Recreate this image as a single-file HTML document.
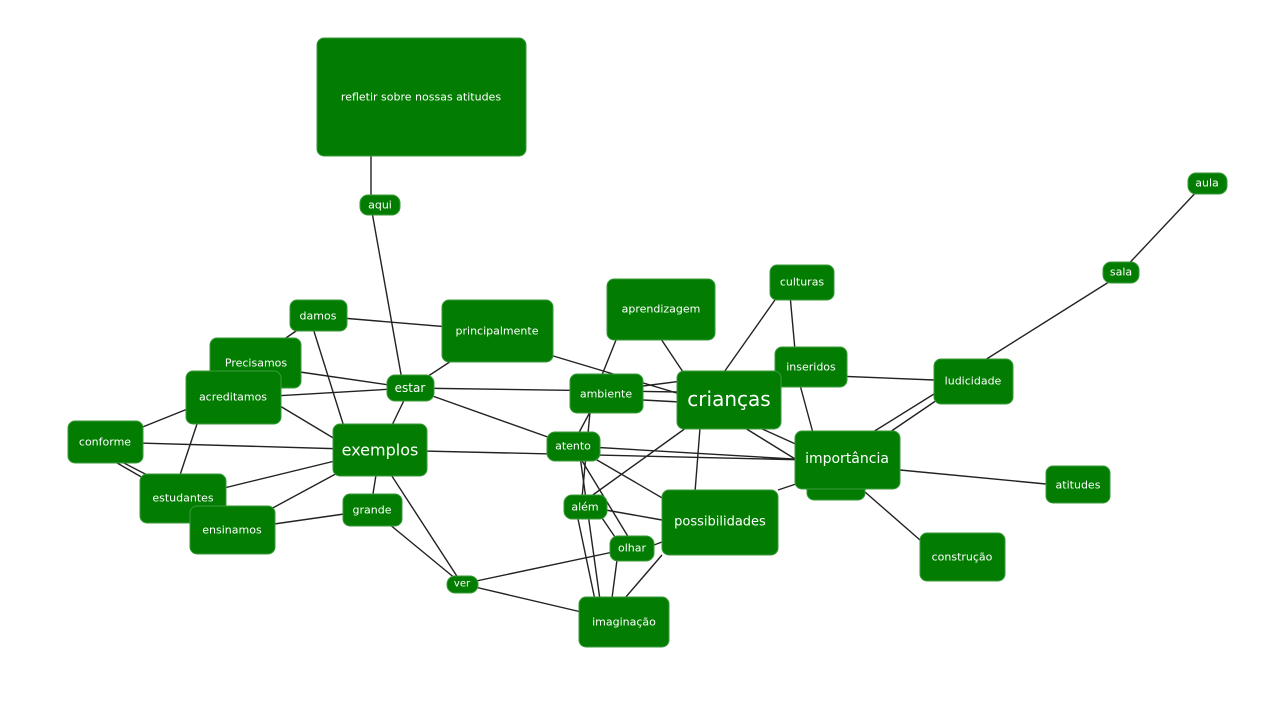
<!DOCTYPE html>
<html><head><meta charset="utf-8"><style>
html,body{margin:0;padding:0;background:#fff}
svg{display:block}
text{font-family:"DejaVu Sans","Liberation Sans",sans-serif;fill:#fff;text-anchor:middle;dominant-baseline:central}
line{stroke:#222;stroke-width:1.4}
rect{fill:#027d02;stroke:#3a9a3a;stroke-width:1}
</style></head><body>
<svg width="1280" height="720" viewBox="0 0 1280 720">
<g>
<line x1="371" y1="156" x2="371" y2="200"/>
<line x1="372" y1="212" x2="402" y2="380"/>
<line x1="1200" y1="188" x2="1121" y2="272"/>
<line x1="1112" y1="280" x2="985" y2="360"/>
<line x1="318" y1="316" x2="497" y2="331"/>
<line x1="318" y1="316" x2="280" y2="342"/>
<line x1="312" y1="325" x2="345" y2="430"/>
<line x1="497" y1="331" x2="410" y2="388"/>
<line x1="540" y1="352" x2="700" y2="400"/>
<line x1="300" y1="372" x2="410" y2="388"/>
<line x1="240" y1="398" x2="410" y2="388"/>
<line x1="270" y1="400" x2="340" y2="442"/>
<line x1="105" y1="442" x2="200" y2="404"/>
<line x1="200" y1="415" x2="175" y2="490"/>
<line x1="410" y1="388" x2="680" y2="392"/>
<line x1="410" y1="388" x2="380" y2="450"/>
<line x1="410" y1="388" x2="573" y2="446"/>
<line x1="105" y1="442" x2="380" y2="450"/>
<line x1="112" y1="460" x2="150" y2="482"/>
<line x1="118" y1="460" x2="153" y2="478"/>
<line x1="183" y1="498" x2="380" y2="450"/>
<line x1="232" y1="530" x2="380" y2="450"/>
<line x1="380" y1="450" x2="810" y2="460"/>
<line x1="372" y1="500" x2="380" y2="450"/>
<line x1="375" y1="450" x2="462" y2="584"/>
<line x1="232" y1="530" x2="372" y2="510"/>
<line x1="372" y1="510" x2="462" y2="584"/>
<line x1="462" y1="584" x2="632" y2="548"/>
<line x1="462" y1="584" x2="624" y2="622"/>
<line x1="620" y1="330" x2="600" y2="380"/>
<line x1="655" y1="330" x2="685" y2="375"/>
<line x1="782" y1="290" x2="722" y2="375"/>
<line x1="790" y1="295" x2="795" y2="350"/>
<line x1="643" y1="386" x2="690" y2="380"/>
<line x1="643" y1="400" x2="680" y2="402"/>
<line x1="590" y1="412" x2="575" y2="440"/>
<line x1="590" y1="412" x2="582" y2="498"/>
<line x1="573" y1="446" x2="810" y2="460"/>
<line x1="573" y1="446" x2="700" y2="520"/>
<line x1="573" y1="446" x2="635" y2="548"/>
<line x1="580" y1="456" x2="600" y2="600"/>
<line x1="690" y1="425" x2="590" y2="497"/>
<line x1="700" y1="428" x2="695" y2="492"/>
<line x1="745" y1="428" x2="800" y2="462"/>
<line x1="760" y1="428" x2="800" y2="446"/>
<line x1="810" y1="375" x2="934" y2="380"/>
<line x1="800" y1="385" x2="813" y2="433"/>
<line x1="780" y1="380" x2="777" y2="380"/>
<line x1="873" y1="432" x2="934" y2="394"/>
<line x1="890" y1="432" x2="940" y2="398"/>
<line x1="900" y1="470" x2="1046" y2="484"/>
<line x1="865" y1="492" x2="920" y2="540"/>
<line x1="778" y1="490" x2="808" y2="480"/>
<line x1="600" y1="509" x2="662" y2="520"/>
<line x1="600" y1="515" x2="617" y2="540"/>
<line x1="578" y1="519" x2="595" y2="600"/>
<line x1="654" y1="545" x2="662" y2="542"/>
<line x1="617" y1="560" x2="612" y2="598"/>
<line x1="662" y1="555" x2="625" y2="598"/>
</g>
<g>
<rect x="317" y="38" width="209" height="118" rx="7"/>
<rect x="360" y="195" width="40" height="20" rx="8"/>
<rect x="1188" y="173" width="39" height="21" rx="8"/>
<rect x="1103" y="262" width="36" height="21" rx="8"/>
<rect x="770" y="265" width="64" height="35" rx="7"/>
<rect x="607" y="279" width="108" height="61" rx="7"/>
<rect x="442" y="300" width="111" height="62" rx="7"/>
<rect x="290" y="300" width="57" height="31" rx="7"/>
<rect x="210" y="338" width="91" height="50" rx="7"/>
<rect x="186" y="371" width="95" height="53" rx="7"/>
<rect x="775" y="347" width="72" height="40" rx="7"/>
<rect x="934" y="359" width="79" height="45" rx="7"/>
<rect x="387" y="375" width="47" height="26" rx="8"/>
<rect x="570" y="374" width="73" height="39" rx="7"/>
<rect x="677" y="371" width="104" height="58" rx="7"/>
<rect x="68" y="421" width="75" height="42" rx="7"/>
<rect x="333" y="424" width="94" height="52" rx="7"/>
<rect x="547" y="432" width="53" height="29" rx="8"/>
<rect x="807" y="470" width="58" height="30" rx="7"/>
<rect x="795" y="431" width="105" height="58" rx="7"/>
<rect x="1046" y="466" width="64" height="37" rx="7"/>
<rect x="140" y="474" width="86" height="49" rx="7"/>
<rect x="564" y="495" width="43" height="24" rx="8"/>
<rect x="343" y="494" width="59" height="32" rx="7"/>
<rect x="662" y="490" width="116" height="65" rx="7"/>
<rect x="190" y="506" width="85" height="48" rx="7"/>
<rect x="610" y="536" width="44" height="25" rx="8"/>
<rect x="920" y="533" width="85" height="48" rx="7"/>
<rect x="447" y="576" width="31" height="17" rx="8"/>
<rect x="579" y="597" width="90" height="50" rx="7"/>
</g>
<g font-size="11">
<text x="421" y="97">refletir sobre nossas atitudes</text>
<text x="380" y="205">aqui</text>
<text x="1207" y="183">aula</text>
<text x="1121" y="272">sala</text>
<text x="802" y="282">culturas</text>
<text x="661" y="309">aprendizagem</text>
<text x="497" y="331">principalmente</text>
<text x="318" y="316">damos</text>
<text x="256" y="363">Precisamos</text>
<text x="233" y="397">acreditamos</text>
<text x="811" y="367">inseridos</text>
<text x="973" y="381">ludicidade</text>
<text x="410" y="388" font-size="12">estar</text>
<text x="606" y="394">ambiente</text>
<text x="729" y="399" font-size="20">crianças</text>
<text x="105" y="442">conforme</text>
<text x="380" y="450" font-size="16">exemplos</text>
<text x="573" y="446">atento</text>
<text x="847" y="459" font-size="14">importância</text>
<text x="1078" y="485">atitudes</text>
<text x="183" y="498">estudantes</text>
<text x="585" y="507">além</text>
<text x="372" y="510">grande</text>
<text x="720" y="522" font-size="13">possibilidades</text>
<text x="232" y="530">ensinamos</text>
<text x="632" y="548">olhar</text>
<text x="962" y="557">construção</text>
<text x="462" y="584" font-size="10">ver</text>
<text x="624" y="622">imaginação</text>
</g>
</svg>
</body></html>
